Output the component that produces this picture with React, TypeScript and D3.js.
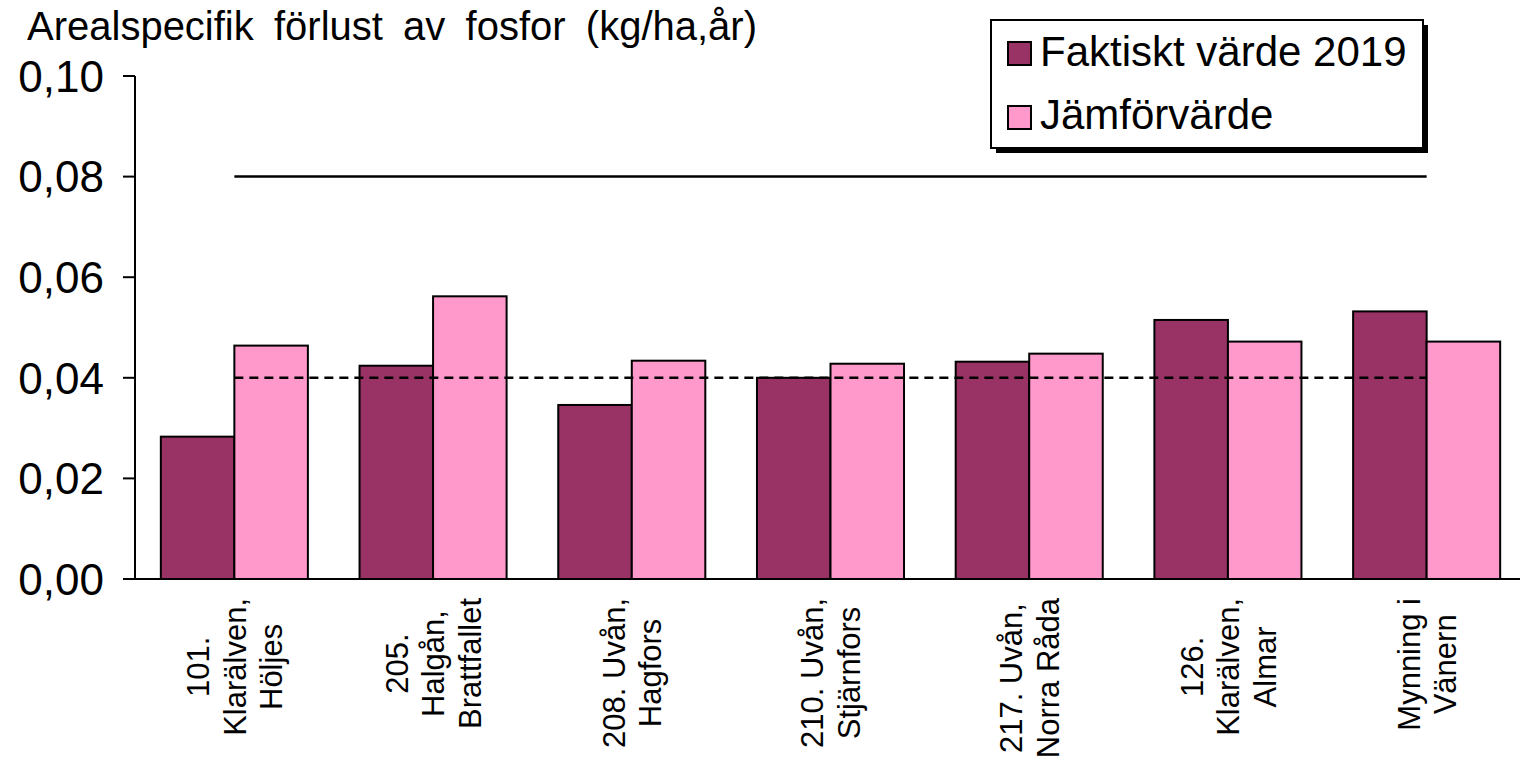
import React, { useMemo } from 'react';
import * as d3 from 'd3';

const categories = [
  '101.\nKlarälven,\nHöljes',
  '205.\nHalgån,\nBrattfallet',
  '208. Uvån,\nHagfors',
  '210. Uvån,\nStjärnfors',
  '217. Uvån,\nNorra Råda',
  '126.\nKlarälven,\nAlmar',
  'Mynning i\nVänern',
];
const actual2019 = [0.0283, 0.0424, 0.0346, 0.04, 0.0432, 0.0515, 0.0532];
const comparison = [0.0464, 0.0562, 0.0434, 0.0428, 0.0448, 0.0472, 0.0472];
const upperLine = [0.08, 0.08, 0.08, 0.08, 0.08, 0.08, 0.08];
const lowerLine = [0.04, 0.04, 0.04, 0.04, 0.04, 0.04, 0.04];
const yTicks = [0, 0.02, 0.04, 0.06, 0.08, 0.1];
const seriesNames = ['Faktiskt värde 2019', 'Jämförvärde'];
const seriesColors = ['#993366', '#FF99CC'];
const title = 'Arealspecifik förlust av fosfor (kg/ha,år)';

const W = 1520;
const H = 762;
const FONT = '"Liberation Sans", Arial, Helvetica, sans-serif';
const CAT_FONT = 31;

function measure(text: string, size: number) {
  const c = document.createElement('canvas');
  const ctx = c.getContext('2d')!;
  ctx.font = `${size}px ${FONT}`;
  return ctx.measureText(text).width;
}

export default function App() {
  const x = d3
    .scaleBand<string>()
    .domain(categories)
    .range([135, 1526])
    .paddingInner(0.26)
    .paddingOuter(0.13);
  const xs = d3.scaleBand<number>().domain([0, 1]).range([0, x.bandwidth()]);
  const y = d3.scaleLinear().domain([0, 0.1]).range([579, 76]);
  const fmt = (v: number) => d3.format('.2f')(v).replace('.', ',');
  const series = [actual2019, comparison];

  const catWidths = useMemo(
    () => categories.map((c) => Math.max(...c.split('\n').map((l) => measure(l, CAT_FONT)))),
    []
  );

  const center = (c: string) => (x(c) ?? 0) + x.bandwidth() / 2;
  const line = d3
    .line<number>()
    .x((_, i) => center(categories[i]))
    .y((d) => y(d));

  const TITLE_FONT = 40;
  const titleW = measure(title, TITLE_FONT);
  const wordSpacing = Math.max(0, (730 - titleW) / 4);

  return (
    <svg
      width={W}
      height={H}
      style={{ position: 'absolute', left: 0, top: 0, background: '#fff' }}
      fontFamily={FONT}
    >
      <rect x={0} y={0} width={W} height={H} fill="#fff" />
      <text x={27} y={40} fontSize={TITLE_FONT} fill="#000" style={{ wordSpacing: `${wordSpacing}px` }}>
        {title}
      </text>

      {/* bars */}
      {categories.map((c, i) => (
        <g key={c} transform={`translate(${x(c)},0)`}>
          {series.map((s, k) => (
            <rect
              key={k}
              x={xs(k)}
              y={y(s[i])}
              width={xs.bandwidth()}
              height={y(0) - y(s[i])}
              fill={seriesColors[k]}
              stroke="#000"
              strokeWidth={2}
            />
          ))}
        </g>
      ))}

      {/* reference lines */}
      <path d={line(upperLine) ?? ''} fill="none" stroke="#000" strokeWidth={2.5} />
      <path d={line(lowerLine) ?? ''} fill="none" stroke="#000" strokeWidth={2.5} strokeDasharray="9,6" />

      {/* y axis */}
      <line x1={135} x2={135} y1={y(0.1)} y2={y(0)} stroke="#000" strokeWidth={2} />
      {yTicks.map((t) => (
        <g key={t}>
          <line x1={123} x2={135} y1={y(t)} y2={y(t)} stroke="#000" strokeWidth={2} />
          <text x={104} y={y(t)} dy="0.36em" textAnchor="end" fontSize={44} fill="#000">
            {fmt(t)}
          </text>
        </g>
      ))}
      {/* x axis */}
      <line x1={123} x2={W} y1={y(0)} y2={y(0)} stroke="#000" strokeWidth={2} />

      {/* category labels */}
      {categories.map((c, i) => {
        const lines = c.split('\n');
        const cx = center(c);
        const cy = 598 + catWidths[i] / 2;
        const sp = 36.5;
        return (
          <g key={c}>
            {lines.map((l, j) => {
              const lx = cx + (j - (lines.length - 1) / 2) * sp;
              return (
                <text
                  key={j}
                  transform={`translate(${lx},${cy}) rotate(-90)`}
                  textAnchor="middle"
                  dy="0.36em"
                  fontSize={CAT_FONT}
                  fill="#000"
                >
                  {l}
                </text>
              );
            })}
          </g>
        );
      })}

      {/* legend */}
      <rect x={996} y={25} width={432} height={128} fill="#000" />
      <rect x={991} y={20} width={432} height={128} fill="#fff" stroke="#000" strokeWidth={2} />
      {seriesNames.map((n, k) => (
        <g key={n}>
          <rect
            x={1008}
            y={42 + k * 64}
            width={23}
            height={23}
            fill={seriesColors[k]}
            stroke="#000"
            strokeWidth={2}
          />
          <text x={1040} y={66 + k * 63} fontSize={42} fill="#000">
            {n}
          </text>
        </g>
      ))}
    </svg>
  );
}
